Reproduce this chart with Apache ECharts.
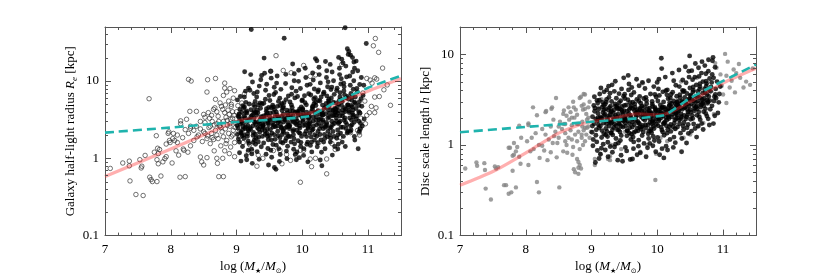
<!DOCTYPE html>
<html><head><meta charset="utf-8">
<script src="https://cdn.jsdelivr.net/npm/echarts@6/dist/echarts.min.js"></script>
<style>html,body{margin:0;padding:0;background:#fff}#c{width:840px;height:280px}</style>
</head><body><div id="c"></div>
<script>
// ---------- tick labels ----------
const xTickLabels = [7, 8, 9, 10, 11];
const yTickLabels = [0.1, 1, 10];
const yMinorTicks = [0.2,0.3,0.4,0.5,0.6,0.7,0.8,0.9,2,3,4,5,6,7,8,9,20,30,40];

// ---------- left panel: half-light radius (flat x,y pairs) ----------
const leftOpen = [
7.08,0.74, 7.27,0.87, 7.37,0.92, 7.37,0.8, 7.38,0.51, 7.47,0.34, 7.53,0.96, 7.56,0.79, 7.55,0.75, 7.58,0.33, 7.61,1.09, 7.68,0.57, 7.7,0.53, 7.72,0.5, 7.67,5.9, 7.78,1.96, 7.8,1.35, 7.81,1.15, 7.79,0.96, 7.81,0.85, 7.79,0.5, 7.85,0.59, 7.83,1.3, 7.91,0.99, 7.93,1.05, 7.99,1.6, 7.93,1.53, 7.96,2.1, 7.97,2.2, 7.98,1.7, 7.75,1.2, 7.88,0.9,
8.02,0.87, 8.03,1.8, 8.04,2.1, 8.06,1.7, 8.1,1.6, 8.14,0.57, 8.22,0.58, 8.15,2.8, 8.19,1.32, 8.2,1.27, 8.26,1.2, 8.27,2.1, 8.3,1.45, 8.35,1.7, 8.45,1.04, 8.47,0.9, 8.5,0.82, 8.55,1.02, 8.52,2.1, 8.56,1.95, 8.63,1.85, 8.66,1.25, 8.7,1.0, 8.73,0.58, 8.8,0.58, 8.79,1.0, 8.82,1.25, 8.71,0.86, 8.84,1.55, 8.89,1.15, 8.94,2.0, 8.97,1.05, 8.08,1.25, 8.12,1.1,
8.27,10.5, 8.31,10.0, 8.56,10.4, 8.68,10.8, 8.55,7.2, 8.82,9.4, 8.82,8.1, 8.85,7.2, 8.29,4.05, 8.39,4.05, 8.15,3.05, 8.24,3.2, 8.5,3.7, 8.52,3.4, 8.57,3.9, 8.59,3.3, 8.65,4.3, 8.67,4.5, 8.7,4.0, 8.72,3.5, 8.77,4.7, 8.79,4.3, 8.82,3.9, 8.84,3.4, 8.8,3.0, 8.87,4.2, 8.89,3.7, 8.91,3.2, 8.92,4.7, 8.94,4.0, 8.96,3.6, 8.7,2.8, 8.74,2.6, 8.66,2.7, 8.6,2.6, 8.39,2.6, 8.3,2.6, 8.76,2.5, 8.86,2.7, 8.9,2.6, 8.98,2.5, 9.0,4.0, 8.35,2.3, 8.42,2.0, 8.45,2.4, 8.5,2.2, 8.55,1.8, 8.58,2.5, 8.62,2.1, 8.65,1.75, 8.68,2.3, 8.7,2.0, 8.72,1.8, 8.75,2.65, 8.78,2.2, 8.8,1.9, 8.83,2.4, 8.85,1.7, 8.88,2.1, 8.9,2.8, 8.92,1.9, 8.95,2.3, 8.97,1.6, 8.6,1.55, 8.48,1.65, 8.4,1.9, 8.52,2.9, 8.73,3.0, 8.86,3.1, 8.94,3.3, 8.98,2.9, 8.63,3.0, 8.91,1.4, 8.76,1.45, 8.3,2.45, 8.22,2.35, 8.1,2.0, 8.18,1.85, 8.45,3.0, 8.62,3.6, 8.75,5.2, 8.88,5.5, 8.95,6.0, 8.92,5.0, 8.83,4.9, 8.68,5.8, 8.8,6.5, 8.9,8.0, 8.97,7.5,
9.18,1.2, 9.23,1.24, 9.31,0.79, 9.33,1.1, 9.56,1.26, 9.66,1.26, 9.69,0.85, 9.76,1.12, 9.82,0.94, 9.97,0.49, 9.97,1.27, 10.02,1.27, 10.12,0.98, 10.14,0.78, 10.2,1.0, 10.37,0.98, 10.37,0.63, 10.45,1.55, 10.57,1.86, 10.73,2.15, 10.86,2.15, 10.87,2.0, 10.88,2.4, 10.84,2.3, 11.11,35.5, 11.08,28.6, 11.16,23.5, 11.22,14.7, 11.03,10.3, 11.1,11.0, 11.13,10.6, 11.06,9.4, 11.24,7.7, 11.34,4.85, 11.1,6.2, 11.17,6.3, 11.12,4.5, 11.1,3.9, 11.02,3.9, 10.98,3.6, 10.87,3.9, 10.89,3.3, 11.05,4.7, 11.29,8.9, 9.52,13.4, 9.6,21.3, 9.71,13.7, 9.83,12.8, 10.02,15.9, 10.12,11.5, 10.2,12.0, 10.6,16.4, 10.98,10.8, 9.02,4.8, 9.05,3.6, 9.08,5.2, 9.04,2.2, 9.1,1.6, 9.12,6.8, 9.2,1.5, 9.05,1.9, 10.95,5.5, 10.92,7.0, 10.96,2.8, 10.25,1.6, 10.5,1.3, 9.9,1.1, 9.4,1.0
];
const leftFilled = [
9.008,2.65, 9.052,4.3, 9.027,1.78, 9.079,3.2, 9.014,5.7, 9.063,2.21, 9.091,1.42, 9.038,3.75, 9.071,2.92, 9.045,1.18, 9.096,4.8, 9.021,2.47, 9.058,6.3, 9.085,1.95, 9.033,3.42, 9.067,0.92, 9.011,2.04, 9.049,2.78, 9.076,3.95, 9.093,2.35, 9.042,1.62,
9.116,3.52, 9.168,2.07, 9.142,5.3, 9.187,1.56, 9.104,2.85, 9.153,4.1, 9.179,1.27, 9.128,2.43, 9.196,3.18, 9.135,7.4, 9.171,2.66, 9.112,1.82, 9.159,3.85, 9.184,2.28, 9.123,13.2, 9.147,1.08, 9.192,5.05, 9.107,4.5, 9.164,3.02, 9.138,2.55, 9.176,1.67, 9.119,6.2, 9.155,0.96, 9.181,8.1, 9.131,3.35,
9.207,3.12, 9.224,46.5, 9.251,1.98, 9.276,4.62, 9.213,2.38, 9.262,6.9, 9.288,1.52, 9.236,3.58, 9.295,2.74, 9.242,9.7, 9.271,1.73, 9.218,4.25, 9.257,2.16, 9.283,5.45, 9.229,1.31, 9.266,3.28, 9.203,7.6, 9.247,2.62, 9.291,3.92, 9.232,1.14, 9.279,2.94, 9.215,12.1, 9.254,1.61, 9.285,2.05, 9.239,0.86, 9.269,4.05,
9.318,2.48, 9.364,4.45, 9.337,1.87, 9.385,3.36, 9.306,6.2, 9.352,2.17, 9.376,1.41, 9.324,3.88, 9.397,2.65, 9.345,8.6, 9.371,3.05, 9.312,1.22, 9.358,5.2, 9.389,2.33, 9.331,1.63, 9.368,10.4, 9.302,3.6, 9.349,2.82, 9.393,1.92, 9.327,4.9, 9.381,11.8, 9.342,0.97, 9.361,2.58, 9.315,7.2, 9.374,3.45,
9.423,3.28, 9.419,19.8, 9.461,2.11, 9.438,5.8, 9.482,1.74, 9.406,2.72, 9.453,4.05, 9.476,1.34, 9.429,2.98, 9.494,6.5, 9.446,3.62, 9.467,2.39, 9.412,1.58, 9.488,4.55, 9.435,2.05, 9.458,9.1, 9.479,2.86, 9.414,5.15, 9.449,1.13, 9.497,3.15, 9.426,12.6, 9.471,1.93, 9.441,7.6, 9.486,0.82, 9.403,2.51, 9.464,3.82,
9.515,2.36, 9.559,4.62, 9.531,1.72, 9.584,3.42, 9.507,5.6, 9.546,2.86, 9.573,8.3, 9.522,1.27, 9.596,3.05, 9.538,2.12, 9.567,6.7, 9.512,3.85, 9.553,1.51, 9.589,2.57, 9.527,10.9, 9.578,4.28, 9.503,1.96, 9.542,3.22, 9.593,7.1, 9.534,1.03, 9.561,2.69, 9.518,13.4, 9.586,1.76, 9.549,4.85, 9.576,0.76, 9.599,0.72,
9.613,3.66, 9.659,1.85, 9.637,5.45, 9.682,2.45, 9.604,1.48, 9.648,3.14, 9.674,7.8, 9.626,2.24, 9.691,4.15, 9.643,1.33, 9.668,2.78, 9.609,9.4, 9.685,3.48, 9.632,1.96, 9.657,6.0, 9.696,2.03, 9.621,4.7, 9.664,1.12, 9.639,3.32, 9.678,2.52, 9.617,11.6, 9.652,0.91, 9.688,5.1, 9.628,2.9, 9.671,1.63,
9.716,2.95, 9.724,35.8, 9.763,4.2, 9.741,1.68, 9.784,3.58, 9.708,2.28, 9.751,5.75, 9.776,1.43, 9.729,3.22, 9.795,2.62, 9.745,9.3, 9.769,2.07, 9.713,4.65, 9.758,1.24, 9.787,6.4, 9.733,2.44, 9.772,3.85, 9.702,1.58, 9.749,12.2, 9.791,1.93, 9.737,3.12, 9.766,0.99, 9.721,5.25, 9.781,2.7, 9.755,1.82,
9.819,3.38, 9.853,16.6, 9.864,2.02, 9.837,6.75, 9.882,1.54, 9.806,2.57, 9.846,4.55, 9.873,1.79, 9.824,3.7, 9.897,2.83, 9.841,8.2, 9.868,1.31, 9.812,5.35, 9.857,2.25, 9.889,3.95, 9.829,1.62, 9.876,10.1, 9.803,2.42, 9.849,3.08, 9.893,1.13, 9.834,4.9, 9.878,12.4, 9.816,1.91, 9.861,2.95, 9.886,6.05,
9.913,2.72, 9.958,4.35, 9.936,1.69, 9.981,3.62, 9.905,7.4, 9.947,2.15, 9.974,1.43, 9.922,3.02, 9.993,5.55, 9.942,9.9, 9.967,2.88, 9.918,1.21, 9.953,4.1, 9.988,1.92, 9.927,6.3, 9.962,2.47, 9.997,3.38, 9.909,0.96, 9.945,13.8, 9.978,1.61, 9.931,3.85, 9.971,8.0, 9.916,2.31, 9.956,1.02, 9.985,4.62,
10.014,3.18, 10.057,2.24, 10.033,6.45, 10.081,1.62, 10.006,4.38, 10.046,2.71, 10.072,8.8, 10.024,1.33, 10.095,3.72, 10.041,5.25, 10.065,1.91, 10.011,2.98, 10.053,11.1, 10.088,2.43, 10.028,3.55, 10.069,1.52, 10.097,6.85, 10.037,2.06, 10.061,4.92, 10.019,1.09, 10.077,2.88, 10.044,14.6, 10.091,3.28, 10.002,5.7, 10.084,0.9,
10.112,2.62, 10.158,4.72, 10.134,1.88, 10.182,7.9, 10.104,3.32, 10.147,2.31, 10.174,5.85, 10.123,1.47, 10.193,3.92, 10.141,1.62, 10.166,10.3, 10.116,2.92, 10.153,4.32, 10.188,2.02, 10.129,6.6, 10.171,2.61, 10.107,3.52, 10.144,1.21, 10.196,6.1, 10.138,4.02, 10.162,2.38, 10.185,1.72, 10.119,9.05, 10.157,12.7, 10.178,5.12, 10.199,19.5,
10.215,3.42, 10.221,18.3, 10.262,2.42, 10.236,7.25, 10.283,1.73, 10.206,4.82, 10.249,2.82, 10.274,9.45, 10.227,1.41, 10.295,4.02, 10.243,5.62, 10.268,2.03, 10.211,3.12, 10.257,12.1, 10.289,2.61, 10.232,1.58, 10.278,3.22, 10.203,5.3, 10.246,7.65, 10.291,1.2, 10.238,2.22, 10.265,3.72, 10.218,1.93, 10.286,6.22, 10.253,15.1, 10.297,0.8, 10.272,0.95,
10.317,2.93, 10.362,5.12, 10.336,2.04, 10.384,8.45, 10.305,3.62, 10.348,2.52, 10.373,6.42, 10.324,1.62, 10.396,4.22, 10.341,1.81, 10.367,11.1, 10.313,3.12, 10.355,4.62, 10.389,2.23, 10.329,7.15, 10.376,2.72, 10.308,3.82, 10.345,1.33, 10.392,9.75, 10.333,4.42, 10.359,2.62, 10.381,1.91, 10.321,6.85, 10.352,17.9, 10.371,13.6, 10.398,5.52,
10.413,3.82, 10.458,2.72, 10.435,7.75, 10.482,1.92, 10.404,5.22, 10.447,3.02, 10.474,10.1, 10.426,1.62, 10.495,4.42, 10.441,6.02, 10.466,2.22, 10.411,3.42, 10.453,13.1, 10.487,2.82, 10.429,1.82, 10.478,3.62, 10.403,5.82, 10.449,8.35, 10.492,1.42, 10.437,2.52, 10.463,4.12, 10.418,2.02, 10.485,6.72, 10.424,16.4, 10.456,1.1, 10.499,3.92,
10.516,3.32, 10.562,5.62, 10.537,2.32, 10.584,9.15, 10.506,4.02, 10.548,2.82, 10.573,7.05, 10.523,1.82, 10.596,4.82, 10.543,2.02, 10.567,12.1, 10.512,3.62, 10.553,5.02, 10.588,2.52, 10.529,8.05, 10.576,3.02, 10.508,4.32, 10.546,1.52, 10.592,10.7, 10.533,4.62, 10.558,2.92, 10.581,2.12, 10.521,7.52, 10.564,14.6, 10.552,20.2, 10.599,19.1, 10.539,1.32, 10.571,6.22,
10.614,4.22, 10.659,2.92, 10.635,8.45, 10.681,2.12, 10.603,5.72, 10.646,3.32, 10.673,11.3, 10.624,1.92, 10.694,4.92, 10.641,6.62, 10.651,49.0, 10.667,2.42, 10.611,3.82, 10.655,4.02, 10.688,6.32, 10.629,9.35, 10.677,2.72, 10.606,1.62, 10.644,4.52, 10.691,2.22, 10.632,7.42, 10.662,15.6, 10.684,26.1, 10.619,17.1, 10.698,22.1, 10.653,1.42, 10.638,3.12,
10.713,3.92, 10.758,6.22, 10.736,2.62, 10.782,10.1, 10.704,4.62, 10.747,3.12, 10.774,7.82, 10.726,2.22, 10.795,5.32, 10.741,2.32, 10.766,13.1, 10.711,4.12, 10.753,5.62, 10.788,2.92, 10.729,8.82, 10.777,3.42, 10.707,24.1, 10.745,4.82, 10.791,1.92, 10.733,21.6, 10.768,3.62, 10.784,17.6, 10.721,11.6, 10.756,2.72, 10.798,1.72, 10.763,20.1, 10.739,6.92, 10.793,14.6,
10.814,4.42, 10.857,3.02, 10.835,7.22, 10.878,2.42, 10.806,5.12, 10.849,1.33, 10.872,9.02, 10.826,3.52, 10.893,5.92, 10.842,13.6, 10.866,2.22, 10.818,18.1, 10.858,4.02, 10.885,2.82, 10.829,8.02, 10.876,3.82, 10.897,11.1, 10.904,4.72, 10.923,6.52, 10.941,3.22, 10.972,30.6, 10.912,2.62, 10.934,8.82,
9.043,3.05, 9.097,2.58, 9.138,3.92, 9.173,2.36, 9.219,3.48, 9.274,2.92, 9.316,4.18, 9.357,3.18, 9.407,2.64, 9.455,4.38, 9.503,3.48, 9.557,2.55, 9.604,3.98, 9.653,3.05, 9.706,4.48, 9.758,3.35, 9.807,2.68, 9.857,4.08, 9.907,3.22, 9.955,2.62, 10.008,4.22, 10.056,3.52, 10.104,2.78, 10.156,4.58, 10.205,3.92, 10.256,3.15, 10.306,4.88, 10.356,3.78, 10.406,4.62, 10.458,3.55, 10.508,5.22, 10.557,4.12, 10.608,5.42, 10.657,4.32, 10.706,5.82, 10.757,4.62, 10.806,6.22, 10.857,4.82,
9.068,2.12, 9.121,4.62, 9.164,1.92, 9.206,2.48, 9.258,4.95, 9.296,1.82, 9.338,2.95, 9.386,5.05, 9.432,2.28, 9.481,3.02, 9.528,4.52, 9.574,2.02, 9.618,2.62, 9.663,4.82, 9.714,2.18, 9.763,2.55, 9.812,4.12, 9.866,2.35, 9.919,4.02, 9.966,2.1, 10.018,2.65, 10.066,3.95, 10.115,2.12, 10.166,3.42, 10.216,2.72, 10.268,5.52, 10.317,2.42, 10.368,2.92, 10.418,2.45, 10.468,5.32, 10.518,3.02, 10.569,3.52, 10.618,2.52, 10.668,6.02, 10.718,3.32, 10.769,4.22, 10.819,3.22, 10.868,5.42,
9.025,3.52, 9.186,3.12, 9.337,2.38, 9.487,2.72, 9.636,3.42, 9.787,2.92, 9.937,3.62, 10.087,2.52, 10.238,4.12, 10.388,3.32, 10.538,3.82, 10.688,4.92, 9.111,2.02, 9.261,3.82, 9.411,3.52, 9.561,3.92, 9.711,3.72, 9.861,3.52, 10.011,3.82, 10.161,3.02, 10.311,3.62, 10.461,4.22, 10.611,3.52, 10.761,3.82
];
const leftPink = [7,0.58, 8,1.32, 9,3.0, 9.3,3.3, 9.7,3.65, 10.1,3.8, 10.4,4.6, 10.8,6.4, 11.1,8.0, 11.5,10.8];
const leftCyan = [7,2.15, 8,2.5, 9,2.95, 10.1,3.5, 10.5,5.3, 11,8.2, 11.5,11.7];

// ---------- right panel: disc scale length ----------
const rightGray = [
7.08,0.55, 7.26,0.59, 7.37,0.63, 7.38,0.53, 7.39,0.33, 7.47,0.25, 7.53,0.58, 7.55,0.55, 7.58,0.57, 7.67,0.36, 7.7,0.36, 7.74,0.29, 7.78,0.3, 7.8,0.52, 7.85,0.34, 7.76,0.93, 7.8,0.76, 7.82,0.78, 7.85,0.85, 7.87,0.95, 7.9,0.74, 7.92,0.62, 8.02,1.1, 8.04,0.6, 8.07,0.85, 8.09,1.2, 8.17,0.39, 8.2,0.3, 8.21,0.72, 8.25,0.98, 8.28,0.87, 8.33,0.68, 8.38,0.83, 8.41,1.05, 8.43,1.25, 8.47,0.73, 8.51,0.34, 8.57,0.85, 8.6,1.1, 8.63,0.82, 8.71,0.78, 8.73,0.54, 8.75,0.5, 8.8,0.48, 8.8,0.56, 8.78,1.7, 8.85,1.3, 8.87,1.0, 8.9,1.55, 8.95,2.0, 9.05,0.7, 9.05,0.6, 9.28,0.75, 9.28,0.68,
7.25,0.64, 7.74,0.93, 7.82,1.05, 7.93,1.2, 8.04,1.66, 8.11,2.6, 8.31,2.37, 8.46,3.3, 8.39,2.5, 8.88,3.65, 8.72,3.0,
7.9,1.63, 8.04,1.73, 8.17,2.13, 8.3,2.3, 8.4,2.6, 8.42,1.9, 8.52,1.8, 8.57,2.2, 8.58,2.4, 8.62,2.1, 8.65,2.6, 8.68,2.3, 8.7,2.0, 8.73,2.6, 8.76,2.45, 8.78,2.15, 8.82,3.3, 8.84,3.4, 8.85,2.7, 8.87,2.45, 8.88,2.8, 8.9,2.5, 8.92,2.2, 8.95,2.6, 8.97,3.0, 8.5,1.6, 8.6,1.7, 8.7,1.65, 8.8,1.7, 8.86,1.6, 8.93,1.55,
8.45,1.4, 8.5,1.2, 8.55,1.5, 8.6,1.35, 8.62,1.0, 8.65,1.2, 8.68,1.45, 8.7,1.15, 8.72,0.95, 8.75,1.3, 8.78,1.1, 8.8,1.4, 8.82,0.9, 8.85,1.2, 8.88,1.45, 8.9,1.1, 8.92,1.3, 8.95,1.6, 8.97,1.2, 8.35,1.15, 8.3,1.3, 8.25,1.5, 8.2,1.0, 8.15,1.35, 8.12,0.9, 8.38,1.6, 8.48,1.05, 8.58,1.7, 8.66,1.9, 8.74,2.0, 8.86,1.8, 8.93,1.9, 8.99,1.4, 8.8,0.65, 8.82,0.6, 8.78,0.7, 8.84,0.55, 8.9,3.6,
11.03,10.1, 11.07,8.3, 11.16,6.8, 11.24,7.8, 11.05,5.8, 11.13,5.1, 11.26,5.5, 11.31,4.3, 11.41,4.6, 11.1,4.3, 11.18,3.8, 11.0,3.6, 10.96,6.0, 10.88,8.0, 10.9,7.1, 10.86,2.2, 10.6,5.5, 10.36,5.0, 9.78,4.8, 9.51,1.4, 9.59,1.3, 9.13,0.8, 9.25,0.7, 9.74,0.84, 9.98,0.8, 9.97,0.41, 10.15,1.1, 10.28,1.5, 10.5,1.3, 10.63,1.6, 10.7,1.75, 11.2,6.2, 11.35,5.0, 11.05,2.9, 10.98,4.5, 9.1,2.6, 9.15,3.2, 9.3,1.0, 9.45,0.9, 9.85,1.0, 10.05,1.2, 10.4,1.2, 11.45,7.0
];
const rightBlack = [
9.012,1.62, 9.047,2.35, 9.021,0.98, 9.083,3.1, 9.066,1.28, 9.034,2.72, 9.091,1.85, 9.058,0.64, 9.015,2.05, 9.072,1.47, 9.043,3.4, 9.097,2.22, 9.026,1.15, 9.063,1.93, 9.088,0.87, 9.039,1.71, 9.051,2.55, 9.079,1.08, 9.094,2.9, 9.008,1.38,
9.107,2.48, 9.153,1.21, 9.124,3.65, 9.181,1.74, 9.136,0.79, 9.169,2.95, 9.112,1.55, 9.195,2.12, 9.142,4.25, 9.177,1.02, 9.128,1.88, 9.161,2.61, 9.186,1.33, 9.119,3.12, 9.149,0.92, 9.173,2.28, 9.104,1.67, 9.191,3.85, 9.133,2.04, 9.158,1.44, 9.183,2.74, 9.115,0.71, 9.146,1.97,
9.218,1.52, 9.264,3.35, 9.203,2.18, 9.247,1.07, 9.289,2.68, 9.231,4.05, 9.272,1.81, 9.209,0.88, 9.256,2.42, 9.293,1.36, 9.224,2.97, 9.268,1.62, 9.238,1.96, 9.281,3.72, 9.212,2.51, 9.251,0.74, 9.276,2.15, 9.243,1.24, 9.297,1.73, 9.228,3.18, 9.262,2.06, 9.284,0.96, 9.235,1.41, 9.259,4.45, 9.206,2.82,
9.326,2.03, 9.371,1.18, 9.304,3.02, 9.352,1.69, 9.388,2.58, 9.317,0.83, 9.346,3.9, 9.393,1.47, 9.331,2.26, 9.364,1.02, 9.309,1.78, 9.377,3.28, 9.341,2.44, 9.398,0.68, 9.322,1.29, 9.357,2.83, 9.383,1.91, 9.313,4.6, 9.368,2.12, 9.336,1.56, 9.392,2.71, 9.349,0.95, 9.374,1.63, 9.302,2.37, 9.361,5.05,
9.415,1.74, 9.462,2.66, 9.438,1.12, 9.487,3.44, 9.403,2.19, 9.449,0.77, 9.476,1.58, 9.421,2.93, 9.494,1.97, 9.456,4.15, 9.432,1.39, 9.468,2.31, 9.408,1.05, 9.483,1.82, 9.443,3.08, 9.427,2.51, 9.471,0.66, 9.499,2.72, 9.452,1.27, 9.418,3.68, 9.465,1.89, 9.436,2.05, 9.489,5.5, 9.411,1.47, 9.458,2.42,
9.523,2.12, 9.571,1.36, 9.506,3.25, 9.548,1.84, 9.592,2.57, 9.534,0.86, 9.562,4.05, 9.517,1.61, 9.583,2.94, 9.541,2.36, 9.598,1.15, 9.511,1.98, 9.557,5.85, 9.576,1.72, 9.529,2.76, 9.588,0.69, 9.545,1.44, 9.566,2.21, 9.503,3.62, 9.537,1.26, 9.594,2.02, 9.552,3.15, 9.581,1.55, 9.514,0.94, 9.569,4.7,
9.614,1.92, 9.657,2.84, 9.632,1.22, 9.681,2.27, 9.603,3.55, 9.648,1.67, 9.693,0.78, 9.626,2.52, 9.669,1.41, 9.611,4.3, 9.675,2.04, 9.641,1.08, 9.688,3.18, 9.619,1.78, 9.662,2.61, 9.637,0.91, 9.696,1.53, 9.653,2.38, 9.607,1.31, 9.684,5.3, 9.628,2.96, 9.671,1.86, 9.644,3.8, 9.699,2.14, 9.622,0.7,
9.708,2.32, 9.754,1.49, 9.731,3.42, 9.783,1.95, 9.716,1.13, 9.765,2.68, 9.742,0.82, 9.791,2.17, 9.723,4.5, 9.777,1.64, 9.748,2.88, 9.702,1.82, 9.769,1.27, 9.736,2.47, 9.795,3.25, 9.713,0.97, 9.758,2.03, 9.786,1.39, 9.727,1.72, 9.773,4.9, 9.744,2.58, 9.798,1.04, 9.719,3.05, 9.762,1.58, 9.739,2.22,
9.816,2.15, 9.862,1.33, 9.835,3.1, 9.889,1.77, 9.804,2.64, 9.851,0.93, 9.877,2.38, 9.823,1.54, 9.896,3.65, 9.843,2.01, 9.868,1.18, 9.812,4.2, 9.881,2.55, 9.857,1.66, 9.829,0.74, 9.893,1.93, 9.838,2.85, 9.873,1.42, 9.808,1.87, 9.866,5.1, 9.847,2.27, 9.885,1.04, 9.826,3.35, 9.854,2.09, 9.899,1.5,
9.917,1.71, 9.963,2.59, 9.938,1.24, 9.982,3.38, 9.905,2.07, 9.951,1.52, 9.976,0.84, 9.924,2.82, 9.993,1.95, 9.946,4.4, 9.971,2.31, 9.913,1.36, 9.987,2.14, 9.932,0.98, 9.958,1.81, 9.921,3.02, 9.968,2.49, 9.941,1.61, 9.997,4.9, 9.909,2.27, 9.955,1.12, 9.984,1.69, 9.928,2.66, 9.962,3.6, 9.935,1.89,
10.013,2.41, 10.058,1.57, 10.031,3.52, 10.087,2.08, 10.004,1.21, 10.046,2.76, 10.072,0.91, 10.022,1.84, 10.095,2.98, 10.061,9.05, 10.038,2.29, 10.081,1.39, 10.016,4.15, 10.053,1.98, 10.077,2.62, 10.027,1.09, 10.066,6.95, 10.091,1.72, 10.042,2.17, 10.008,3.05, 10.069,1.46, 10.035,0.78, 10.084,3.85, 10.049,2.5, 10.099,0.72, 10.024,5.3,
10.118,2.21, 10.164,3.24, 10.137,1.63, 10.185,2.73, 10.103,1.28, 10.152,4.05, 10.176,1.96, 10.125,2.49, 10.193,1.15, 10.145,3.57, 10.169,2.04, 10.112,1.79, 10.188,2.93, 10.133,0.97, 10.158,1.48, 10.121,5.6, 10.174,2.37, 10.141,1.87, 10.197,3.3, 10.107,2.6, 10.155,0.88, 10.183,1.59, 10.129,3.96, 10.166,2.12, 10.148,1.35,
10.214,2.63, 10.258,1.74, 10.233,3.82, 10.286,2.25, 10.205,1.41, 10.247,3.06, 10.273,1.06, 10.221,2.04, 10.294,3.45, 10.262,2.51, 10.239,1.59, 10.281,4.55, 10.217,2.86, 10.253,1.22, 10.277,2.19, 10.228,6.2, 10.266,1.88, 10.291,2.74, 10.243,0.94, 10.208,3.6, 10.269,1.51, 10.236,2.34, 10.284,1.96, 10.249,5.1, 10.297,2.97,
10.311,3.02, 10.357,1.96, 10.334,4.4, 10.382,2.47, 10.306,1.58, 10.345,3.32, 10.372,1.18, 10.324,2.72, 10.393,3.86, 10.361,2.2, 10.338,1.71, 10.386,5.2, 10.317,2.36, 10.352,1.35, 10.376,2.94, 10.329,6.7, 10.366,2.05, 10.391,1.62, 10.342,3.58, 10.303,2.58, 10.369,0.84, 10.335,1.88, 10.384,4.0, 10.348,2.82, 10.398,1.47,
10.416,3.34, 10.461,2.16, 10.437,4.85, 10.484,2.71, 10.404,1.77, 10.449,3.7, 10.472,1.34, 10.423,2.96, 10.495,4.25, 10.457,2.46, 10.431,1.93, 10.478,6.5, 10.412,2.58, 10.452,1.55, 10.487,3.15, 10.426,7.3, 10.466,2.31, 10.491,9.6, 10.444,1.05, 10.408,3.95, 10.469,1.68, 10.435,2.84, 10.482,5.6, 10.447,2.04, 10.499,3.48,
10.512,3.55, 10.563,2.38, 10.536,5.25, 10.581,2.96, 10.505,1.92, 10.548,4.0, 10.574,1.52, 10.527,3.2, 10.593,4.6, 10.556,2.7, 10.531,2.12, 10.578,7.9, 10.516,2.85, 10.552,1.7, 10.586,3.42, 10.523,6.6, 10.567,2.52, 10.597,1.22, 10.541,3.85, 10.508,2.3, 10.571,5.6, 10.538,1.96, 10.589,2.61, 10.546,4.35, 10.519,1.42,
10.615,3.88, 10.661,2.62, 10.634,5.7, 10.684,3.18, 10.603,2.12, 10.647,4.4, 10.675,1.72, 10.622,3.5, 10.693,5.0, 10.655,2.93, 10.629,2.31, 10.679,8.3, 10.611,3.05, 10.652,1.9, 10.688,3.72, 10.626,7.1, 10.667,2.76, 10.697,1.48, 10.643,4.15, 10.607,2.5, 10.671,6.2, 10.638,2.05, 10.691,2.86, 10.648,4.75, 10.618,1.62,
10.717,4.15, 10.764,2.88, 10.738,6.1, 10.782,3.42, 10.704,2.33, 10.749,4.75, 10.773,1.94, 10.726,3.75, 10.795,5.4, 10.757,3.12, 10.731,2.5, 10.778,8.7, 10.713,3.28, 10.754,2.08, 10.788,4.0, 10.722,7.5, 10.768,3.0, 10.791,1.66, 10.744,4.45, 10.708,2.7, 10.775,6.5, 10.736,2.22, 10.797,3.08, 10.742,5.05,
10.816,4.35, 10.862,3.05, 10.834,6.0, 10.881,3.6, 10.805,2.48, 10.847,9.25, 10.873,2.1, 10.826,4.9, 10.894,3.3, 10.855,5.5, 10.831,2.7, 10.878,7.2, 10.812,3.9, 10.853,1.72, 10.887,4.15, 10.921,2.25, 10.943,3.65, 10.908,5.0, 10.934,2.95, 10.957,4.4, 10.838,8.5, 10.868,3.4,
9.135,1.62, 9.187,2.43, 9.242,1.86, 9.296,2.31, 9.318,1.47, 9.385,2.02, 9.423,1.69, 9.474,2.19, 9.519,1.9, 9.573,2.46, 9.619,1.58, 9.668,2.2, 9.712,1.75, 9.767,2.36, 9.821,1.66, 9.878,2.27, 9.926,1.81, 9.979,2.4, 10.027,1.92, 10.074,2.55, 10.128,2.0, 10.179,2.67, 10.226,2.18, 10.275,2.85, 10.325,2.4, 10.378,3.05, 10.421,2.62, 10.476,3.2,
9.163,1.95, 9.214,1.29, 9.271,2.58, 9.337,1.91, 9.366,2.67, 9.447,1.61, 9.493,2.38, 9.539,1.43, 9.591,2.13, 9.643,1.37, 9.689,2.45, 9.734,1.57, 9.786,2.03, 9.852,2.51, 9.904,1.44, 9.948,2.09, 10.011,1.63, 10.056,2.24, 10.103,1.73, 10.157,2.43, 10.204,1.68, 10.254,2.4, 10.307,1.99, 10.358,2.55, 10.407,2.12, 10.455,2.8, 10.502,2.45, 10.553,3.05, 10.604,2.7, 10.655,3.3, 10.703,3.0, 10.755,3.6,
9.097,1.98, 9.229,1.71, 9.301,1.35, 9.404,2.48, 9.509,1.76, 9.602,2.71, 9.707,1.43, 9.802,2.37, 9.901,2.23, 10.002,2.03, 10.106,2.3, 10.203,2.45, 10.301,2.15, 10.401,2.95, 10.599,3.4
];
const rightPink = [7,0.36, 7.5,0.51, 7.9,0.74, 8.2,1.0, 8.5,1.35, 8.8,1.65, 9,1.8, 9.3,1.95, 9.7,2.2, 10.0,2.15, 10.2,2.3, 10.5,3.0, 11,4.8, 11.5,7.0];
const rightCyan = [7,1.38, 8,1.58, 9,1.8, 10.1,2.13, 10.5,3.3, 10.8,4.3, 11.5,7.7];

// ---------- helpers ----------
function pairs(a){const r=[];for(let i=0;i<a.length;i+=2)r.push([a[i],a[i+1]]);return r;}
const FONT='Liberation Serif', AX='#555', XMIN=7, XMAX=11.5;
const richName = {
  t:{fontFamily:FONT,fontSize:13,color:'#000',lineHeight:16},
  i:{fontFamily:FONT,fontSize:13,fontStyle:'italic',color:'#000',lineHeight:16},
  s:{fontFamily:'DejaVu Sans',fontSize:7,color:'#000',verticalAlign:'bottom',lineHeight:9},
  si:{fontFamily:FONT,fontSize:9,fontStyle:'italic',color:'#000',verticalAlign:'bottom',lineHeight:10}
};
function xLabel(v){const r=Math.round(v);return (Math.abs(v-r)<1e-6 && xTickLabels.indexOf(r)>=0)?String(r):'';}
function yLabel(v){const l=Math.log10(v);const r=Math.round(l);if(Math.abs(l-r)>1e-6)return '';const m=yTickLabels.find(t=>Math.abs(Math.log10(t)-r)<1e-6);return m===undefined?'':String(m);}

function xAxes(g){
  const base={gridIndex:g,type:'value',min:XMIN,max:XMAX,splitLine:{show:false}};
  return [
    Object.assign({},base,{position:'bottom',interval:1,axisLine:{show:true,lineStyle:{color:AX,width:1}},
      axisTick:{inside:true,length:6,lineStyle:{color:AX}},
      axisLabel:{formatter:xLabel,fontFamily:FONT,fontSize:13,color:'#000',margin:7},
      name:'{t|log (}{i|M}{s|★}{t|/}{i|M}{s|⊙}{t|)}',nameLocation:'middle',nameGap:18,nameTextStyle:{rich:richName}}),
    Object.assign({},base,{position:'bottom',interval:0.2,axisLine:{show:false},axisTick:{inside:true,length:3,lineStyle:{color:AX}},axisLabel:{show:false}}),
    Object.assign({},base,{position:'top',interval:1,axisLine:{show:true,lineStyle:{color:AX,width:1}},axisTick:{inside:true,length:6,lineStyle:{color:AX}},axisLabel:{show:false}}),
    Object.assign({},base,{position:'top',interval:0.2,axisLine:{show:false},axisTick:{inside:true,length:3,lineStyle:{color:AX}},axisLabel:{show:false}})
  ];
}
function yAxes(g,max,name){
  const base={gridIndex:g,type:'log',logBase:10,min:0.1,max:max,splitLine:{show:false},minorTick:{show:false},
    axisLine:{show:true,lineStyle:{color:AX,width:1}},axisTick:{inside:true,length:6,lineStyle:{color:AX}}};
  return [
    Object.assign({},base,{position:'left',axisLabel:{formatter:yLabel,fontFamily:FONT,fontSize:13,color:'#000',margin:6},
      name:name,nameLocation:'middle',nameGap:26,nameTextStyle:{rich:richName}}),
    Object.assign({},base,{position:'right',axisLabel:{show:false}})
  ];
}
function minorY(xi,yi,max){
  return {type:'custom',xAxisIndex:xi,yAxisIndex:yi,silent:true,clip:false,z:6,
    data:yMinorTicks.filter(v=>v<max).map(v=>[XMIN,v]),
    renderItem:function(p,api){
      const v=api.value(1);const a=api.coord([XMIN,v]);const b=api.coord([XMAX,v]);
      const y=Math.round(a[1])+0.5;
      return {type:'group',children:[
        {type:'line',shape:{x1:a[0],y1:y,x2:a[0]+3,y2:y},style:{stroke:AX,lineWidth:1}},
        {type:'line',shape:{x1:b[0]-3,y1:y,x2:b[0],y2:y},style:{stroke:AX,lineWidth:1}}]};
    }};
}
const PINK='rgba(255,45,45,0.38)', CYAN='#1fb3ad';
function lineS(xi,yi,data,color,dash,smooth){
  return {type:'line',xAxisIndex:xi,yAxisIndex:yi,data:pairs(data),symbol:'none',smooth:smooth,silent:true,z:4,
    lineStyle:{color:color,width:dash?2.6:3.2,type:dash?[9,5]:'solid',cap:'butt'}};
}

const chart=echarts.init(document.getElementById('c'),null,{renderer:'canvas'});
chart.setOption({
  animation:false,
  backgroundColor:'#fff',
  grid:[{left:105,top:27,width:296,height:213},{left:460,top:27,width:296,height:213}],
  xAxis:[].concat(xAxes(0),xAxes(1)),
  yAxis:[].concat(
    yAxes(0,50,'{t|Galaxy half-light radius }{i|R}{si|e}{t| [kpc]}'),
    yAxes(1,20,'{t|Disc scale length }{i|h}{t| [kpc]}')),
  series:[
    {type:'scatter',xAxisIndex:0,yAxisIndex:0,data:pairs(leftOpen),symbol:'circle',symbolSize:4.5,silent:true,z:2,
      itemStyle:{color:'rgba(255,255,255,0)',borderColor:'#222',borderWidth:0.8}},
    {type:'scatter',xAxisIndex:0,yAxisIndex:0,data:pairs(leftFilled),symbol:'circle',symbolSize:4.9,silent:true,z:3,
      itemStyle:{color:'#000'}},
    lineS(0,0,leftPink,PINK,false,0.2),
    lineS(0,0,leftCyan,CYAN,true,0.15),
    minorY(0,0,50),
    {type:'scatter',xAxisIndex:4,yAxisIndex:2,data:pairs(rightGray),symbol:'circle',symbolSize:4.4,silent:true,z:2,
      itemStyle:{color:'#858585'}},
    {type:'scatter',xAxisIndex:4,yAxisIndex:2,data:pairs(rightBlack),symbol:'circle',symbolSize:4.9,silent:true,z:3,
      itemStyle:{color:'#000'}},
    lineS(4,2,rightPink,PINK,false,0.3),
    lineS(4,2,rightCyan,CYAN,true,0.15),
    minorY(4,2,20)
  ]
});
</script>
</body></html>
